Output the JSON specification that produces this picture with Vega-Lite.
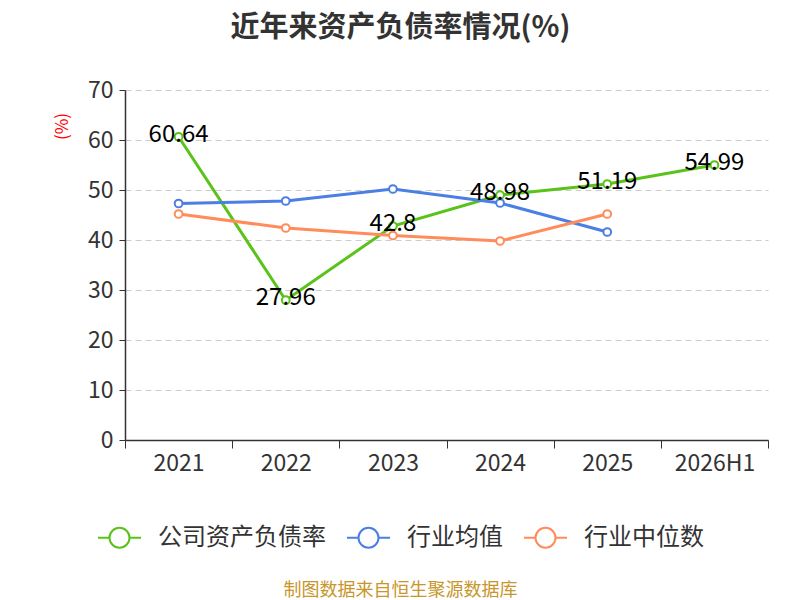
{
  "$schema": "https://vega.github.io/schema/vega-lite/v6.json",
  "width": 643,
  "height": 350,
  "autosize": {"type": "none"},
  "padding": {"left": 125, "top": 90, "right": 32, "bottom": 160},
  "config": {
    "font": "Noto Sans CJK SC",
    "view": {"stroke": null}
  },
  "title": {
    "text": "近年来资产负债率情况(%)",
    "fontSize": 29,
    "fontWeight": "bold",
    "color": "#333333",
    "anchor": "middle",
    "dx": -46,
    "offset": 36
  },
  "data": {
    "values": [
      {"year": "2021", "series": "公司资产负债率", "value": 60.64},
      {"year": "2022", "series": "公司资产负债率", "value": 27.96},
      {"year": "2023", "series": "公司资产负债率", "value": 42.8},
      {"year": "2024", "series": "公司资产负债率", "value": 48.98},
      {"year": "2025", "series": "公司资产负债率", "value": 51.19},
      {"year": "2026H1", "series": "公司资产负债率", "value": 54.99},
      {"year": "2021", "series": "行业均值", "value": 47.3},
      {"year": "2022", "series": "行业均值", "value": 47.8},
      {"year": "2023", "series": "行业均值", "value": 50.2},
      {"year": "2024", "series": "行业均值", "value": 47.4},
      {"year": "2025", "series": "行业均值", "value": 41.6},
      {"year": "2021", "series": "行业中位数", "value": 45.2},
      {"year": "2022", "series": "行业中位数", "value": 42.4},
      {"year": "2023", "series": "行业中位数", "value": 40.9},
      {"year": "2024", "series": "行业中位数", "value": 39.8},
      {"year": "2025", "series": "行业中位数", "value": 45.2}
    ]
  },
  "encoding": {
    "x": {
      "field": "year",
      "type": "nominal",
      "sort": null,
      "scale": {"paddingInner": 0, "paddingOuter": 0},
      "axis": {
        "title": "制图数据来自恒生聚源数据库",
        "titleColor": "#c8962a",
        "titleFontSize": 18,
        "titleFontWeight": "normal",
        "titleX": 275,
        "titleY": 150,
        "titleBaseline": "middle",
        "titleAlign": "center",
        "labelAngle": 0,
        "labelFontSize": 23,
        "labelColor": "#333333",
        "labelPadding": 4,
        "tickBand": "extent",
        "tickSize": 8,
        "tickColor": "#333333",
        "domainColor": "#333333",
        "domainWidth": 1.5,
        "grid": false
      }
    },
    "y": {
      "field": "value",
      "type": "quantitative",
      "scale": {"domain": [0, 70]},
      "axis": {
        "title": "(%)",
        "titleColor": "#ff0000",
        "titleFontSize": 17,
        "titleFontWeight": "normal",
        "titleX": -63,
        "titleY": 36,
        "titleAlign": "center",
        "titleBaseline": "middle",
        "values": [0, 10, 20, 30, 40, 50, 60, 70],
        "labelFontSize": 23,
        "labelColor": "#333333",
        "labelPadding": 6,
        "tickSize": 6,
        "tickColor": "#333333",
        "domainColor": "#333333",
        "domainWidth": 1.5,
        "gridColor": "#cccccc",
        "gridDash": [6, 4],
        "gridWidth": 1
      }
    }
  },
  "layer": [
    {
      "mark": {"type": "line", "strokeWidth": 3},
      "encoding": {
        "color": {
          "field": "series",
          "type": "nominal",
          "scale": {
            "domain": ["公司资产负债率", "行业均值", "行业中位数"],
            "range": ["#5ac31a", "#4b7fe3", "#ff8c5a"]
          },
          "legend": {
            "title": null,
            "orient": "none",
            "direction": "horizontal",
            "legendX": -28,
            "legendY": 425,
            "symbolType": "M-1,0H-0.465M0.465,0H1M-0.465,0A0.465,0.465,0,1,0,0.465,0A0.465,0.465,0,1,0,-0.465,0",
            "symbolSize": 1849,
            "symbolStrokeWidth": 2,
            "symbolFillColor": "#ffffff",
            "labelFontSize": 24,
            "labelLimit": 400,
            "labelColor": "#333333",
            "labelOffset": 16,
            "columnPadding": 17
          }
        }
      }
    },
    {
      "mark": {"type": "circle", "fill": "#ffffff", "strokeWidth": 2, "size": 60, "opacity": 1},
      "encoding": {
        "stroke": {
          "field": "series",
          "type": "nominal",
          "scale": {
            "domain": ["公司资产负债率", "行业均值", "行业中位数"],
            "range": ["#5ac31a", "#4b7fe3", "#ff8c5a"]
          },
          "legend": null
        }
      }
    },
    {
      "transform": [{"filter": "datum.series === '公司资产负债率'"}],
      "mark": {"type": "text", "fontSize": 24, "color": "#000000", "dy": -2, "baseline": "middle", "align": "center"},
      "encoding": {
        "text": {"field": "value", "type": "quantitative"}
      }
    }
  ]
}
